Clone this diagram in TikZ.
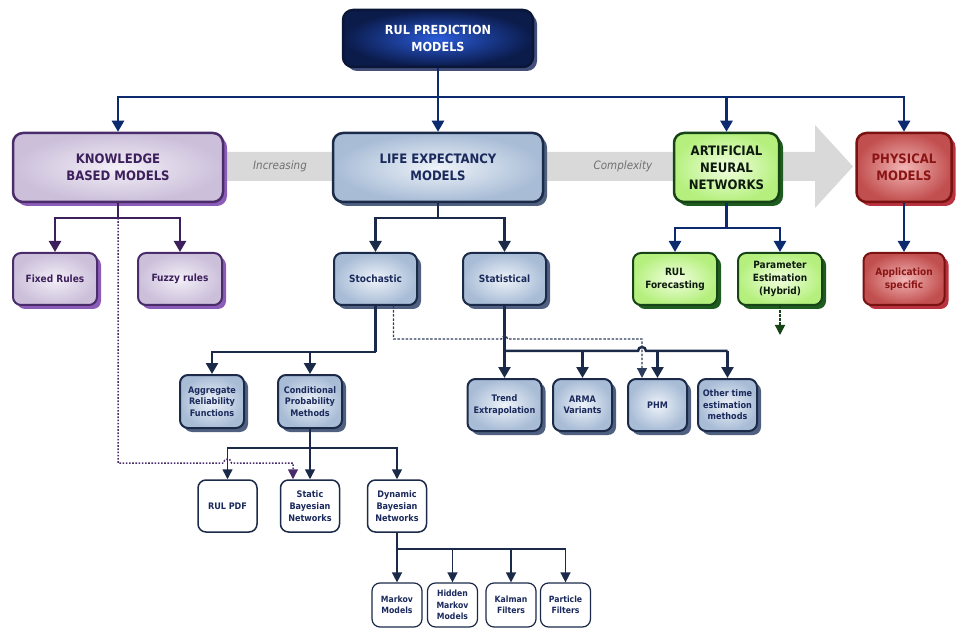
\documentclass[tikz,border=0pt]{standalone}
\usepackage{fontspec}
\setmainfont{DejaVu Sans Condensed}
\usetikzlibrary{arrows.meta,shadows}
\definecolor{topin}{HTML}{2A5BD8}
\definecolor{topout}{HTML}{0B1B4A}
\definecolor{topborder}{HTML}{0A1638}
\definecolor{topshadow}{HTML}{44507A}
\definecolor{kbmin}{HTML}{F3EFF7}
\definecolor{kbmout}{HTML}{CBBFDA}
\definecolor{kbmborder}{HTML}{4A2C6B}
\definecolor{kbmshadow}{HTML}{8C5DB8}
\definecolor{kbmtext}{HTML}{3D1F5C}
\definecolor{lein}{HTML}{EEF3F9}
\definecolor{leout}{HTML}{A8BCD6}
\definecolor{leborder}{HTML}{1B2A48}
\definecolor{leshadow}{HTML}{4F6080}
\definecolor{letext}{HTML}{1B2A5C}
\definecolor{annin}{HTML}{F2FFE0}
\definecolor{annout}{HTML}{B5F07E}
\definecolor{annborder}{HTML}{174417}
\definecolor{annshadow}{HTML}{1F5C1F}
\definecolor{anntext}{HTML}{0D1A0D}
\definecolor{pmin}{HTML}{F2B5B5}
\definecolor{pmout}{HTML}{C24F4F}
\definecolor{pmborder}{HTML}{7A1212}
\definecolor{pmshadow}{HTML}{B8323F}
\definecolor{pmtext}{HTML}{8B1515}
\definecolor{navyline}{HTML}{0C2A6E}
\definecolor{greyband}{HTML}{D9D9D9}
\definecolor{greytext}{HTML}{707070}
\definecolor{dashcol}{HTML}{2F3D5C}
\begin{document}
\begin{tikzpicture}[x=1pt,y=-1pt,
  arr/.style={-{Triangle[width=12pt,length=11pt]}},
  sarr/.style={-{Triangle[width=10pt,length=10pt]}},
  bigbox/.style={rounded corners=10pt, line width=2.5pt, align=center, inner sep=2pt, font=\fontsize{13}{17}\selectfont\bfseries},
  leafbox/.style={rounded corners=8pt, line width=2pt, align=center, inner sep=1pt, minimum height=52pt},
  whitebox/.style={rounded corners=8pt, line width=1.5pt, align=center, inner sep=1pt, draw=leborder, fill=white, text=letext},
  topstyle/.style={draw=topborder, shade, inner color=topin, outer color=topout, text=white, drop shadow={shadow xshift=4pt, shadow yshift=-4pt, fill=topshadow, opacity=1}},
  kbmstyle/.style={draw=kbmborder, shade, inner color=kbmin, outer color=kbmout, text=kbmtext, drop shadow={shadow xshift=4pt, shadow yshift=-4pt, fill=kbmshadow, opacity=1}},
  lestyle/.style={draw=leborder, shade, inner color=lein, outer color=leout, text=letext, drop shadow={shadow xshift=4pt, shadow yshift=-4pt, fill=leshadow, opacity=1}},
  annstyle/.style={draw=annborder, shade, inner color=annin, outer color=annout, text=anntext, drop shadow={shadow xshift=4pt, shadow yshift=-4pt, fill=annshadow, opacity=1}},
  pmstyle/.style={draw=pmborder, shade, inner color=pmin, outer color=pmout, text=pmtext, drop shadow={shadow xshift=4pt, shadow yshift=-4pt, fill=pmshadow, opacity=1}},
  topline/.style={draw=navyline, line width=2.5pt},
  kbmline/.style={draw=kbmtext, line width=2.5pt},
  leline/.style={draw=leborder, line width=2.5pt},
  thinline/.style={draw=leborder, line width=1.5pt},
  purpledot/.style={draw=kbmborder, line width=1.5pt, dash pattern=on 1.6pt off 1.6pt},
  dashline/.style={draw=dashcol, line width=1.4pt, dash pattern=on 2.5pt off 1.6pt},
  greendash/.style={draw=annborder, line width=1.4pt, dash pattern=on 2.5pt off 1.6pt},
  bandtext/.style={text=greytext, font=\fontsize{11.5}{14}\selectfont\itshape}
]
\useasboundingbox (0,0) rectangle (956,628);

% complexity arrow
\path[fill=greyband] (223,152) -- (815,152) -- (815,125) -- (853,166.5) -- (815,208) -- (815,181) -- (223,181) -- cycle;
\node[bandtext] (inc) at (280,166) {Increasing};
\node[bandtext] (cpx) at (623,166) {Complexity};

% top
\node[bigbox, topstyle, minimum width=190pt, minimum height=57pt, font=\fontsize{12.5}{17}\selectfont\bfseries] (top) at (438,38.5) {RUL PREDICTION\\MODELS};

% main categories
\node[bigbox, kbmstyle, minimum width=210pt, minimum height=69pt] (kbm) at (118,167.5) {KNOWLEDGE\\BASED MODELS};
\node[bigbox, lestyle, minimum width=210pt, minimum height=69pt] (le) at (438,167.5) {LIFE EXPECTANCY\\MODELS};
\node[bigbox, annstyle, minimum width=105pt, minimum height=69pt] (ann) at (726.5,167.5) {ARTIFICIAL\\NEURAL\\NETWORKS};
\node[bigbox, pmstyle, minimum width=95pt, minimum height=69pt] (pm) at (904,167.5) {PHYSICAL\\MODELS};

% row 1
\begin{scope}[every node/.append style={font=\fontsize{10}{13}\selectfont\bfseries}]
\node[leafbox, kbmstyle, minimum width=84pt] (fixed) at (55,279) {Fixed Rules};
\node[leafbox, kbmstyle, minimum width=84pt] (fuzzy) at (180,279) {Fuzzy rules};
\node[leafbox, lestyle, minimum width=83pt] (stoch) at (375.5,279) {Stochastic};
\node[leafbox, lestyle, minimum width=83pt] (stat) at (504.5,279) {Statistical};
\node[leafbox, annstyle, minimum width=84pt] (rulf) at (675,279) {RUL\\Forecasting};
\node[leafbox, annstyle, minimum width=84pt] (param) at (780,279) {Parameter\\Estimation\\(Hybrid)};
\node[leafbox, pmstyle, minimum width=81pt] (app) at (904,279) {Application\\specific};
\end{scope}

% row 2
\begin{scope}[every node/.append style={font=\fontsize{9}{11.5}\selectfont\bfseries}]
\node[leafbox, lestyle, minimum width=64pt, minimum height=53pt] (agg) at (212,401.5) {Aggregate\\Reliability\\Functions};
\node[leafbox, lestyle, minimum width=64pt, minimum height=53pt] (cond) at (310,401.5) {Conditional\\Probability\\Methods};
\node[leafbox, lestyle, minimum width=74pt] (trend) at (504.5,405) {Trend\\Extrapolation};
\node[leafbox, lestyle, minimum width=59pt] (arma) at (582.5,405) {ARMA\\Variants};
\node[leafbox, lestyle, minimum width=59pt] (phm) at (657.5,405) {PHM};
\node[leafbox, lestyle, minimum width=59pt] (other) at (727.5,405) {Other time\\estimation\\methods};
\end{scope}

% row 3
\begin{scope}[every node/.append style={font=\fontsize{9}{12}\selectfont\bfseries}]
\node[whitebox, minimum width=59pt, minimum height=52pt] (rulpdf) at (227.5,506) {RUL PDF};
\node[whitebox, minimum width=59pt, minimum height=52pt] (static) at (310,506) {Static\\Bayesian\\Networks};
\node[whitebox, minimum width=59pt, minimum height=52pt] (dyn) at (397,506) {Dynamic\\Bayesian\\Networks};
\end{scope}

% row 4
\begin{scope}[every node/.append style={font=\fontsize{8.6}{11.5}\selectfont\bfseries}]
\node[whitebox, line width=1.2pt, minimum width=50pt, minimum height=44pt] (markov) at (397,605) {Markov\\Models};
\node[whitebox, line width=1.2pt, minimum width=50pt, minimum height=44pt] (hidden) at (452.5,605) {Hidden\\Markov\\Models};
\node[whitebox, line width=1.2pt, minimum width=50pt, minimum height=44pt] (kalman) at (511,605) {Kalman\\Filters};
\node[whitebox, line width=1.2pt, minimum width=50pt, minimum height=44pt] (particle) at (565.5,605) {Particle\\Filters};
\end{scope}

% top-level connectors
\coordinate (b0) at (438,97);
\draw[topline] (top.south) -- (b0);
\draw[topline, arr] (b0) -| (kbm.north);
\draw[topline, arr] (b0) -- (le.north);
\draw[topline, arr] (b0) -| (ann.north);
\draw[topline, arr] (b0) -| (pm.north);

% KBM
\coordinate (b1) at (118,218);
\draw[kbmline] (kbm.south) -- (b1);
\draw[kbmline, arr] (b1) -| (fixed.north);
\draw[kbmline, arr] (b1) -| (fuzzy.north);

% LE
\coordinate (b2) at (438,218);
\draw[leline] (le.south) -- (b2);
\draw[leline, arr] (b2) -| (stoch.north);
\draw[leline, arr] (b2) -| (stat.north);

% ANN
\coordinate (b3) at (726.5,228);
\draw[topline] (ann.south) -- (b3);
\draw[topline, arr] (b3) -| (rulf.north);
\draw[topline, arr] (b3) -| (param.north);
\coordinate (pe) at (780,335);
\draw[greendash, sarr] (param.south) -- (pe);

% PM
\draw[topline, arr] (pm.south) -- (app.north);

% Stochastic
\coordinate (b4) at (375.5,352);
\draw[leline] (stoch.south) -- (b4);
\draw[leline, arr] (b4) -| (agg.north);
\draw[leline, arr] (b4) -| (cond.north);

% Statistical
\coordinate (b5) at (504.5,351);
\draw[leline] (stat.south) -- (b5);
\draw[leline, arr] (b5) -- (trend.north);
\draw[leline] (b5) -- (638,351) arc[start angle=180, end angle=0, radius=4pt] -| (other.north |- b5);
\draw[leline, arr] (arma.north |- b5) -- (arma.north);
\draw[leline, arr] (phm.north |- b5) -- (phm.north);
\draw[leline, arr] (other.north |- b5) -- (other.north);

% dashed from stochastic to PHM
\coordinate (d1) at (393.5,339);
\draw[dashline, sarr] ([xshift=18pt]stoch.south) -- (d1) -- (501.5,339) arc[start angle=180, end angle=0, radius=3pt] -| ([xshift=-15.5pt]phm.north);

% Conditional
\coordinate (b6) at (310,448);
\draw[thinline] (cond.south) -- (b6);
\draw[thinline, sarr] (b6) -| (rulpdf.north);
\draw[thinline, sarr] (b6) -- (static.north);
\draw[thinline, sarr] (b6) -| (dyn.north);

% purple dotted from KBM to static BN
\coordinate (p1) at (118,463);
\draw[purpledot, sarr] (b1) -- (p1) -- (223.5,463) arc[start angle=180, end angle=0, radius=4pt] -| ([xshift=-17pt]static.north);

% Dynamic
\coordinate (b7) at (397,549);
\draw[thinline] (dyn.south) -- (b7);
\draw[thinline, sarr] (b7) -- (markov.north);
\draw[thinline, sarr] (b7) -| (hidden.north);
\draw[thinline, sarr] (b7) -| (kalman.north);
\draw[thinline, sarr] (b7) -| (particle.north);
\end{tikzpicture}
\end{document}
